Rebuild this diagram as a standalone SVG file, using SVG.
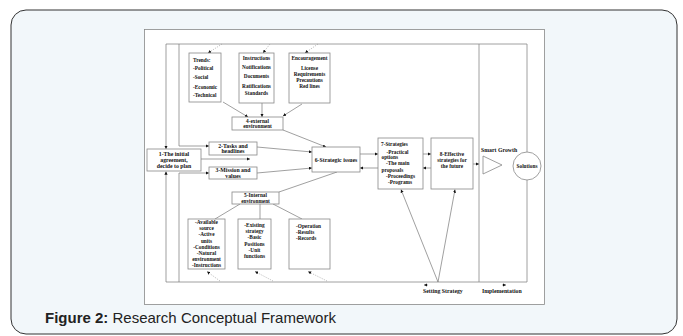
<svg xmlns="http://www.w3.org/2000/svg" width="683" height="336" viewBox="0 0 683 336">
<defs>
<marker id="ah" viewBox="0 0 6 6" refX="6" refY="3" markerWidth="3.2" markerHeight="3.2" orient="auto" markerUnits="userSpaceOnUse"><path d="M0,0 L6,3 L0,6 z" fill="#111"/></marker>
<style>
.bx{fill:#fff;stroke:#888;stroke-width:0.8}
.ln{fill:none;stroke:#888;stroke-width:0.8}
.ar{fill:none;stroke:#777;stroke-width:0.7;marker-end:url(#ah)}
.da{fill:none;stroke:#999;stroke-width:0.6;stroke-dasharray:1.2 1.2;marker-end:url(#ah)}
.t{font-family:"Liberation Serif",serif;font-weight:bold;font-size:5.8px;fill:#111}
.s{font-family:"Liberation Serif",serif;font-weight:bold;font-size:5.3px;fill:#111}
.c{text-anchor:middle}
</style>
</defs>
<rect x="11" y="10" width="666" height="324" rx="15" fill="#f2f7fa" stroke="#333" stroke-width="1"/>
<rect x="144.5" y="29.5" width="400" height="275" fill="#fff" stroke="#888" stroke-width="0.8"/>
<g id="connectors">
<path class="ln" d="M166 44 H527 M166 282 H527 M479 44 V282 M527 44 V282"/>
<path class="ar" d="M166 44 V149"/>
<path class="ar" d="M166 282 V171.5"/>
<path class="ar" d="M179 44 V146 H209"/>
<path class="ar" d="M179 282 V173 H209"/>
<path class="ar" d="M201 159 H250"/>
<path class="ar" d="M257 147 L312 152"/>
<path class="ar" d="M257 173 L312 168"/>
<path class="da" d="M222 44 L208 53"/>
<path class="da" d="M270 44 L263 53"/>
<path class="da" d="M318 44 L305 53"/>
<path class="ar" d="M223 102 L248 117"/>
<path class="ar" d="M262 103 V117"/>
<path class="ar" d="M302 104 L283 116"/>
<path class="ar" d="M283 130 L326 147"/>
<path class="ln" d="M279 192 L337 172"/>
<path class="ln" d="M240 204 L215 219 M260 204 V219 M273 204 L302 219"/>
<path class="da" d="M220 281 L207 271.5"/>
<path class="da" d="M273 281 L255 271.5"/>
<path class="da" d="M327 281 L308 271.5"/>
<path class="ar" d="M360 154 H378"/>
<path class="ar" d="M378 168 H360"/>
<path class="ar" d="M423 154 H431"/>
<path class="ar" d="M431 168 H423"/>
<path class="ar" d="M473 164 H479"/>
<path class="ar" d="M438 282 L401 189.5"/>
<path class="ar" d="M438 282 L455 189.5"/>
<path class="ar" d="M428 285 H424"/>
<path class="ar" d="M502 285 H506"/>
</g>
<g id="n1"><rect class="bx" x="147" y="149" width="54" height="22"/><text class="t c" x="174" y="156">1-The initial</text><text class="t c" x="174" y="162">agreement,</text><text class="t c" x="174" y="168">decide to plan</text></g>
<g id="n2"><rect class="bx" x="209" y="142" width="48" height="13"/><text class="t c" x="233" y="147.5">2-Tasks and</text><text class="t c" x="233" y="153">headlines</text></g>
<g id="n3"><rect class="bx" x="209" y="167" width="48" height="12"/><text class="t c" x="233" y="172">3-Mission and</text><text class="t c" x="233" y="177.5">values</text></g>
<g id="trends"><rect class="bx" x="189" y="53" width="32" height="49"/><text class="s" x="193" y="62">Trends:</text><text class="s" x="193" y="70">-Political</text><text class="s" x="193" y="79">-Social</text><text class="s" x="193" y="89">-Economic</text><text class="s" x="193" y="97">-Technical</text></g>
<g id="instructions"><rect class="bx" x="239" y="53" width="35" height="50"/><text class="s c" x="256.5" y="60">Instructions</text><text class="s c" x="256.5" y="69">Notifications</text><text class="s c" x="256.5" y="78">Documents</text><text class="s c" x="256.5" y="88">Ratifications</text><text class="s c" x="256.5" y="95">Standards</text></g>
<g id="encouragement"><rect class="bx" x="289" y="53" width="41" height="50"/><text class="s c" x="309.5" y="60">Encouragement</text><text class="s c" x="309.5" y="70" font-weight="normal">License</text><text class="s c" x="309.5" y="76" font-weight="normal">Requirements</text><text class="s c" x="309.5" y="82" font-weight="normal">Precautions</text><text class="s c" x="309.5" y="88" font-weight="normal">Red lines</text></g>
<g id="n4"><rect class="bx" x="232" y="117" width="51" height="13"/><text class="s c" x="257.5" y="122.5">4-external</text><text class="s c" x="257.5" y="128">environment</text></g>
<g id="n5"><rect class="bx" x="232" y="192" width="47" height="12"/><text class="s c" x="255.5" y="197">5-Internal</text><text class="s c" x="255.5" y="202.5">environment</text></g>
<g id="available"><rect class="bx" x="188" y="219" width="37" height="50"/><text class="s c" x="206.5" y="224">-Available</text><text class="s c" x="206.5" y="230.2">source</text><text class="s c" x="206.5" y="236.4">-Active</text><text class="s c" x="206.5" y="242.6">units</text><text class="s c" x="206.5" y="248.8">-Conditions</text><text class="s c" x="206.5" y="255">-Natural</text><text class="s c" x="206.5" y="261.2">environment</text><text class="s c" x="206.5" y="267.2">-Instructions</text></g>
<g id="existing"><rect class="bx" x="238" y="219" width="33" height="50"/><text class="s c" x="254.5" y="227">-Existing</text><text class="s c" x="254.5" y="233.2">strategy</text><text class="s c" x="254.5" y="239.4">-Basic</text><text class="s c" x="254.5" y="245.6">Positions</text><text class="s c" x="254.5" y="251.8">-Unit</text><text class="s c" x="254.5" y="258">functions</text></g>
<g id="operation"><rect class="bx" x="289" y="219" width="41" height="50"/><text class="s" x="296" y="227.5">-Operation</text><text class="s" x="296" y="233.5">-Results</text><text class="s" x="296" y="239.5">-Records</text></g>
<g id="n6"><rect class="bx" x="312" y="147" width="48" height="25"/><text class="t c" x="336" y="161.5">6-Strategic issues</text></g>
<g id="n7"><rect class="bx" x="378" y="138" width="45" height="51"/><text class="s" x="381" y="145.5">7-Strategies</text><text class="s" x="386.5" y="153.5">-Practical</text><text class="s" x="381.5" y="158.8">options</text><text class="s" x="386" y="165.3">-The main</text><text class="s" x="381.5" y="171.8">proposals</text><text class="s" x="386" y="177.8">-Proceedings</text><text class="s" x="388" y="184">-Programs</text></g>
<g id="n8"><rect class="bx" x="431" y="138" width="42" height="51"/><text class="s c" x="452" y="155.5">8-Effective</text><text class="s c" x="452" y="161.8">strategies for</text><text class="s c" x="452" y="168">the future</text></g>
<g id="smart"><text class="t" x="481" y="152">Smart Growth</text><path d="M483 156 L483 174 L502 165 z" fill="#fff" stroke="#888" stroke-width="0.8"/></g>
<g id="solutions"><circle cx="527" cy="166" r="14" fill="#fff" stroke="#888" stroke-width="0.8"/><text class="s c" x="527" y="168">Solutions</text></g>
<g id="labels"><text class="t" x="423" y="293">Setting Strategy</text><text class="t" x="482" y="293">Implementation</text></g>
<text x="45" y="323" font-family="Liberation Sans,Arial,sans-serif" font-size="15" fill="#222"><tspan font-weight="bold">Figure 2:</tspan> Research Conceptual Framework</text>
</svg>
